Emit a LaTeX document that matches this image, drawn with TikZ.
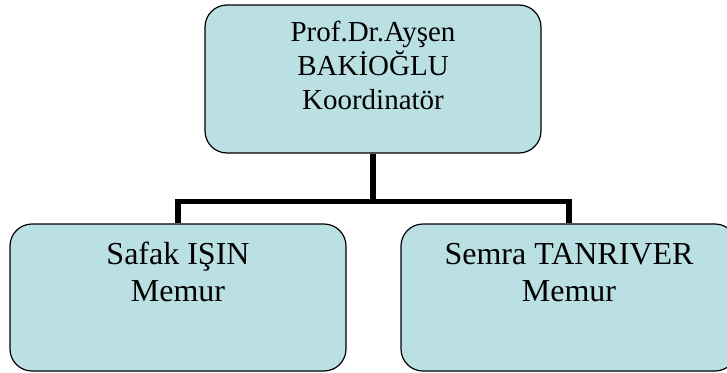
\documentclass[tikz,border=0pt]{standalone}
\usepackage{fontspec}
\setmainfont{Liberation Serif}
\usepackage{tikz}
\usetikzlibrary{positioning}
\definecolor{mblue}{RGB}{187, 224, 228}
\tikzset{kutu/.style = {draw, fill = mblue, rounded corners = 22pt, line width = 1.2pt, inner sep = 0, minimum width = 336pt, align = center}}
\tikzset{ust/.style = {kutu, font = \fontsize{29}{34}\selectfont, text height = 104pt, text depth = 44pt}}
\tikzset{alt/.style = {kutu, font = \fontsize{32}{37}\selectfont, text height = 77pt, text depth = 70pt}}
\tikzset{hat/.style = {line width = 5.5pt}}

\begin{document}
\begin{tikzpicture}[x = 1pt, y = -1pt]
    \useasboundingbox (0, 0) rectangle (727, 372);

    \node [ust] (koord) at (373, 79) {Prof.Dr.Ayşen\\BAKİOĞLU\\Koordinatör};

    \node [alt] (memurA) at (178, 297.5) {Safak IŞIN\\Memur};
    \node [alt] (memurB) at (569, 297.5) {Semra TANRIVER\\Memur};

    \coordinate (bus) at (373, 201.5);

    \draw [hat] (koord.south) -- (bus) -| (memurA.north);
    \draw [hat] (bus) -| (memurB.north);
  \end{tikzpicture}
\end{document}
